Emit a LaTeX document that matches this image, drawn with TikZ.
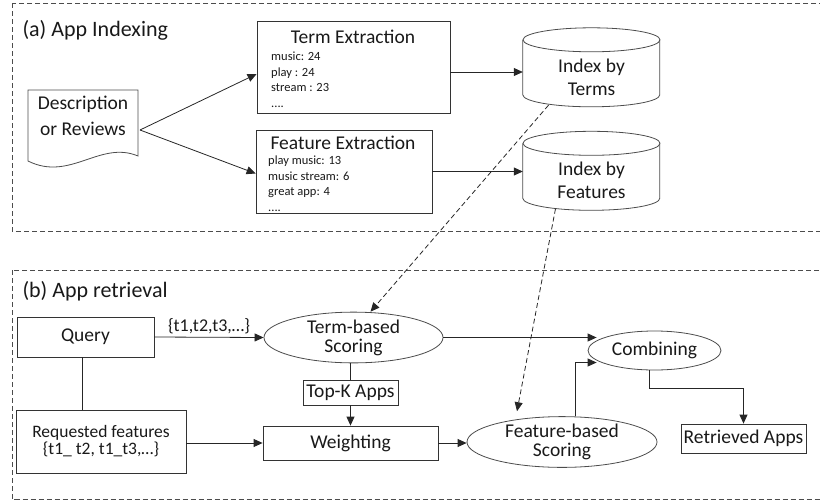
\documentclass[tikz,border=0pt]{standalone}
\usepackage{fontspec}
\setmainfont{Carlito}
\usepackage{tikz}
\usetikzlibrary{arrows.meta,shapes.geometric,positioning}

\begin{document}
\begin{tikzpicture}[x=1pt,y=-1pt,
  every node/.style={text=black!90},
  panel/.style={draw=black!70,line width=0.9pt,dash pattern=on 5pt off 3pt},
  box/.style={draw=black!80,line width=0.8pt,inner sep=0pt,align=center},
  oval/.style={ellipse,draw=black!70,line width=0.8pt,inner sep=0pt,align=center},
  drum/.style={inner sep=0pt,minimum width=137pt,minimum height=79pt},
  edge/.style={draw=black!70,line width=0.8pt},
  arr/.style={-{Triangle[length=9pt,width=8pt]},line width=0.8pt,draw=black!85},
  darr/.style={arr,dash pattern=on 5pt off 3pt},
  head/.style={font=\fontsize{22}{26}\selectfont},
  lab/.style={font=\fontsize{19.5}{22}\selectfont},
  small/.style={font=\fontsize{12.5}{15.5}\selectfont,align=left,inner sep=0pt}]
\clip (0,0) rectangle (820,501);
\draw[panel] (12,3) rectangle (830,231);
\draw[panel] (12,270) rectangle (830,499.5);
\node[head,anchor=west] (ta) at (19,30) {(a) App Indexing};
\node[head,anchor=west] (tb) at (19,291) {(b) App retrieval};

\draw[edge] (28,90) -- (138,90) -- (138,156) .. controls (100,140) and (70,182) .. (28,161) -- cycle;
\node[lab,align=center] (doc) at (83,116) {Description\\[4pt]or Reviews};
\coordinate (docout) at (140,130);

\node[box,minimum width=193pt,minimum height=92pt] (term) at (353.5,67) {};
\node[lab] (termt) at (353,37) {Term Extraction};
\node[small,anchor=north west] (terml) at (271,52) {music: 24\\play : 24\\stream : 23\\....};
\node[box,minimum width=176pt,minimum height=83pt] (feat) at (344,171.5) {};
\node[lab] (featt) at (343,143) {Feature Extraction};
\node[small,anchor=north west] (featl) at (268,156) {play music: 13\\music stream: 6\\great app: 4\\....};

\node[drum] (idxt) at (591.5,67.5) {};
\draw[edge] (idxt.north west) ++(0,12) -- ++(0,55) arc[start angle=180,end angle=360,x radius=68.5pt,y radius=12pt] -- ++(0,-55);
\draw[edge] ([yshift=-12pt]idxt.north) ellipse [x radius=68.5pt,y radius=12pt];
\node[lab,align=center] (idxtl) at (591.5,77) {Index by\\[1pt]Terms};
\node[drum] (idxf) at (591.5,171) {};
\draw[edge] (idxf.north west) ++(0,12) -- ++(0,55) arc[start angle=180,end angle=360,x radius=68.5pt,y radius=12pt] -- ++(0,-55);
\draw[edge] ([yshift=-12pt]idxf.north) ellipse [x radius=68.5pt,y radius=12pt];
\node[lab,align=center] (idxfl) at (591.5,180) {Index by\\[1pt]Features};

\draw[arr] (docout) -- ([yshift=-7pt]term.west);
\draw[arr] (docout) -- ([yshift=-2pt]feat.west);
\draw[arr] ([yshift=-5pt]term.east) -- ([yshift=-5pt]term.east -| idxt.west);
\draw[arr] (feat.east) -- (feat.east -| idxf.west);

\node[box,lab,minimum width=137pt,minimum height=40pt] (qry) at (85.5,337) {Query};
\node[box,lab,minimum width=170pt,minimum height=63pt,font=\fontsize{17.5}{17}\selectfont] (req) at (101,441.5) {Requested features\\\{t1\_ t2, t1\_t3,\dots\}};
\node[oval,lab,minimum width=179pt,minimum height=49pt] (tsc) at (353.5,337.5) {Term-based\\[-3pt]Scoring};
\node[box,lab,minimum width=95pt,minimum height=25pt] (topk) at (350.5,392.5) {Top-K Apps};
\node[box,lab,minimum width=175pt,minimum height=34pt] (wt) at (350.5,443) {Weighting};
\node[oval,lab,minimum width=190pt,minimum height=50pt] (fsc) at (562,442) {Feature-based\\[-3pt]Scoring};
\node[oval,lab,minimum width=133pt,minimum height=39pt] (comb) at (654.5,350.5) {Combining};
\node[box,lab,minimum width=125pt,minimum height=29pt] (ret) at (743.5,438.5) {Retrieved Apps};

\draw[darr] ([xshift=-43pt,yshift=2pt]idxt.south) -- ([xshift=17pt]tsc.north);
\draw[darr] ([xshift=-36pt,yshift=2pt]idxf.south) -- ([xshift=-45pt,yshift=5pt]fsc.north);

\draw[arr] (qry.east) -- node[above,font=\fontsize{18}{20}\selectfont] {\{t1,t2,t3,\dots\}} (tsc.west);
\draw[line width=0.8pt,black!85] ([xshift=-3pt]qry.south) -- ([xshift=-3pt]qry.south |- req.north);
\draw[line width=0.8pt,black!85] (tsc.south -| topk.north) -- (topk.north);
\draw[arr] (topk.south) -- (wt.north);
\draw[arr] (req.east |- wt.west) -- (wt.west);
\draw[arr] (wt.east) -- (wt.east -| fsc.west);
\draw[arr] (tsc.east) -- ([xshift=9pt]tsc.east -| comb.west);
\draw[arr] ([xshift=13pt]fsc.north) |- ([xshift=9pt,yshift=-12pt]comb.west);
\draw[arr] ([xshift=-5pt]comb.south) -- ++(0,18) -| (ret.north);
\end{tikzpicture}
\end{document}
